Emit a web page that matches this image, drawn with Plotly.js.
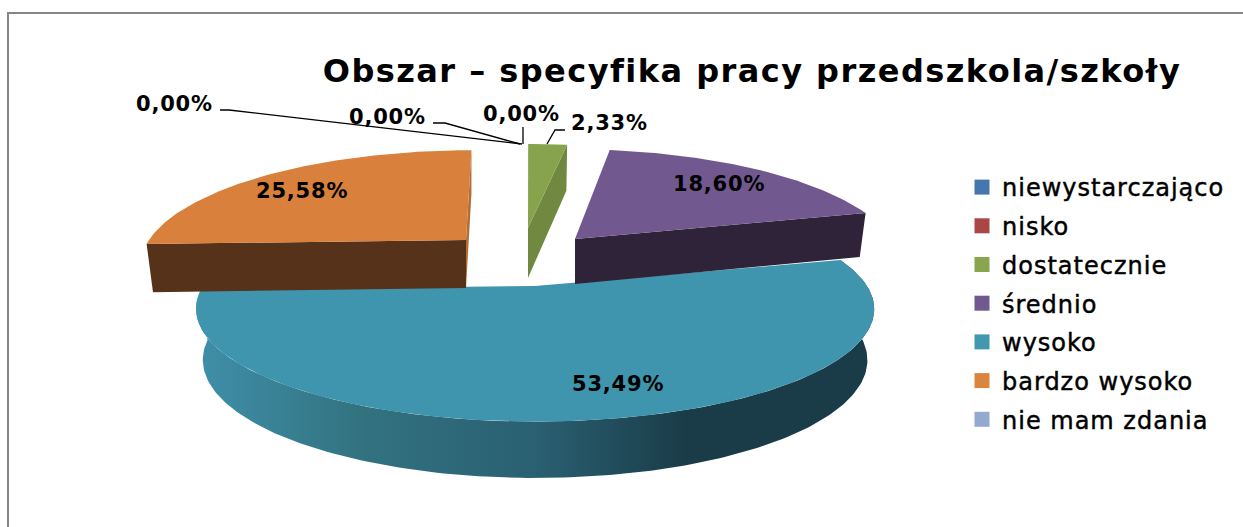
<!DOCTYPE html>
<html>
<head>
<meta charset="utf-8">
<script src="https://cdn.plot.ly/plotly-3.0.1.min.js"></script>
<style>
html,body{margin:0;padding:0;background:#fff;overflow:hidden}
#chart{width:1243px;height:527px}
.gtitle{letter-spacing:1.45px}
.annotation-text{letter-spacing:0.8px}
.legendtext{letter-spacing:1.0px;stroke:#000;stroke-width:0.45px}
</style>
</head>
<body>
<div id="chart"></div>
<script>
// --- data ---
const categories = ['niewystarczająco','nisko','dostatecznie','średnio','wysoko','bardzo wysoko','nie mam zdania'];
const percents = [0, 0, 2.33, 18.60, 53.49, 25.58, 0];
const chartTitle = 'Obszar – specyfika pracy przedszkola/szkoły';

// --- styles ---
const legendColors = ['#4676ae','#aa4643','#89a54e','#71588f','#4198af','#db843d','#93a9cf'];
const topColors = {2:'#87a44d', 3:'#71588f', 4:'#3f95ae', 5:'#d8803c'};
const sideColors = {2:'#70883f', 3:'#2e2339', 5:'#56321a'};
const sliverColor = '#b56d35';
const tealGradient = [[0,'#3f8fa9'],[0.25,'#32727f'],[0.5,'#2a6072'],[0.72,'#1a3c48'],[1,'#1a3c48']];
const TEXT_FONT = 'DejaVu Sans';

// --- 3D projection of the exploded pie (pixel space of the hidden axes) ---
const K = 0.2035, X0 = 530, BOTTOM_X = 0.98, LEAN = 0.5;
const geom = {
  2:{cx:528, cy:228, R:321, r:101, depth:50},
  3:{cx:575, cy:239, R:317, r:108, depth:45},
  4:{cx:535, cy:286, R:332, r:108, depth:50},
  5:{cx:466, cy:240, R:317, r:108, depth:48}
};
function pt(g, deg, bottom){
  const t = deg*Math.PI/180, s = 1/(1+K*Math.cos(t));
  const f = bottom ? BOTTOM_X : 1;
  return [g.cx + f*g.R*Math.sin(t)*s + (g.cx-X0)*LEAN*(s-1),
          g.cy - g.r*Math.cos(t)*s + (bottom ? g.depth*(1+(s-1)*0.5) : 0)];
}
function arc(g, a, b, bottom){
  const out = [], n = Math.max(2, Math.ceil(Math.abs(b-a)));
  for(let i=0;i<=n;i++) out.push(pt(g, a+(b-a)*i/n, bottom));
  return out;
}
function poly(points, color, extra){
  return Object.assign({type:'scatter', mode:'lines', x:points.map(p=>p[0]), y:points.map(p=>p[1]),
    fill:'toself', fillcolor:color, line:{width:0, color:color}, showlegend:false, hoverinfo:'skip'}, extra||{});
}

// angles from the values, clockwise from 12 o'clock
const total = percents.reduce((a,b)=>a+b,0);
const startA = [], endA = [];
let acc = 0;
percents.forEach((v,i)=>{ startA[i]=acc/total*360; acc+=v; endA[i]=acc/total*360; });

const traces = [];
// wysoko: outer wall + top
{
  const i=4, g=geom[i];
  const wall = arc(g,startA[i],endA[i],false).concat(arc(g,endA[i],startA[i],true));
  traces.push(poly(wall,'#1a3c48',{fillgradient:{type:'horizontal',colorscale:tealGradient}}));
  traces.push(poly([[g.cx,g.cy]].concat(arc(g,startA[i],endA[i],false)),topColors[i]));
}
// średnio: cut face at its end angle + top
{
  const i=3, g=geom[i], a=endA[i];
  traces.push(poly([[g.cx,g.cy],pt(g,a,false),pt(g,a,true),[g.cx,g.cy+g.depth]],sideColors[i]));
  traces.push(poly([[g.cx,g.cy]].concat(arc(g,startA[i],endA[i],false)),topColors[i]));
}
// dostatecznie: cut face at its end angle + top
{
  const i=2, g=geom[i], a=endA[i];
  traces.push(poly([[g.cx,g.cy],pt(g,a,false),pt(g,a,true),[g.cx,g.cy+g.depth]],sideColors[i]));
  traces.push(poly([[g.cx,g.cy]].concat(arc(g,startA[i],endA[i],false)),topColors[i]));
}
// bardzo wysoko: both cut faces + top
{
  const i=5, g=geom[i], a=startA[i], b=endA[i];
  traces.push(poly([[g.cx,g.cy],pt(g,b,false),pt(g,b,true),[g.cx,g.cy+g.depth]],sliverColor));
  traces.push(poly([[g.cx,g.cy],pt(g,a,false),pt(g,a,true),[g.cx,g.cy+g.depth]],sideColors[i]));
  traces.push(poly([[g.cx,g.cy]].concat(arc(g,a,b,false)),topColors[i]));
}
// legend entries
categories.forEach((c,i)=>{
  traces.push({type:'scatter', mode:'markers', x:[null], y:[null], name:c, legendgroup:'g'+i,
    marker:{symbol:'square', size:15, color:legendColors[i]}, showlegend:true});
});

// data labels
const labelPos = {0:[174,104], 1:[387,117], 2:[609,123], 3:[719,184], 4:[618,384], 5:[302,191], 6:[521,114]};
const fmt = v => v.toFixed(2).replace('.',',')+'%';
const annotations = percents.map((v,i)=>({
  xref:'x', yref:'y', x:labelPos[i][0], y:labelPos[i][1], text:fmt(v), showarrow:false,
  xanchor:'center', yanchor:'middle', font:{family:TEXT_FONT, size:21, color:'#000', weight:700}
}));

// leader lines and frame
const leaders = [
  'M220,110 L229,110 L522,144',
  'M433,123 L445,123 L520,144',
  'M523,127 L523,144',
  'M565,130 L555,130 L547,144'
];
const shapes = leaders.map(p=>({type:'path', xref:'x', yref:'y', path:p, line:{color:'#000', width:1.3}}));
shapes.push({type:'path', xref:'x', yref:'y', path:'M8,527 L8,13 L1243,13', line:{color:'#868686', width:2}});

const layout = {
  width:1243, height:527, margin:{l:0,r:0,t:0,b:0}, paper_bgcolor:'#fff', plot_bgcolor:'#fff',
  title:{text:chartTitle, x:752/1243, xanchor:'center', xref:'paper', y:1-71/527, yanchor:'middle', yref:'paper',
         font:{family:TEXT_FONT, size:32, color:'#000', weight:700}},
  xaxis:{range:[0,1243], visible:false, fixedrange:true},
  yaxis:{range:[527,0], visible:false, fixedrange:true},
  showlegend:true,
  legend:{x:962/1243, xanchor:'left', y:1-165/527, yanchor:'top', bgcolor:'rgba(0,0,0,0)', tracegroupgap:4.5,
          font:{family:TEXT_FONT, size:24, color:'#000'}, itemclick:false, itemdoubleclick:false},
  annotations:annotations, shapes:shapes, hovermode:false
};
Plotly.newPlot('chart', traces, layout, {displayModeBar:false});
</script>
</body>
</html>
